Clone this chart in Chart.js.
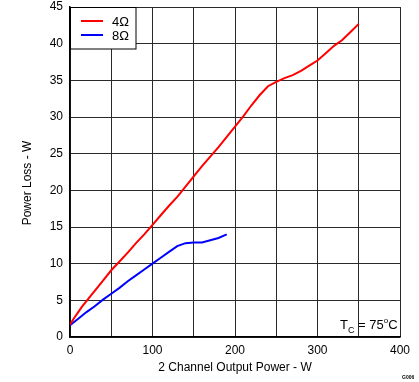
<!DOCTYPE html>
<html>
<head>
<meta charset="utf-8">
<script src="https://cdn.jsdelivr.net/npm/chart.js@4.4.0/dist/chart.umd.min.js"></script>
<style>
  html, body { margin: 0; padding: 0; background: #fff; }
  #wrap { width: 419px; height: 382px; }
</style>
</head>
<body>
<div id="wrap"><canvas id="lossChart" width="419" height="382"></canvas></div>
<script>
// --- Data ---
const labels4 = '4Ω';
const labels8 = '8Ω';
const power4 = [0, 5, 10, 15, 20, 25, 30, 40, 50, 60, 70, 80, 90, 100, 110, 120, 130, 140, 150, 160, 170, 180, 190, 200, 210, 220, 230, 240, 250, 260, 270, 280, 290, 300, 310, 320, 330, 340, 350];
const loss4 = [1.7, 2.6, 3.4, 4.2, 4.9, 5.6, 6.3, 7.7, 9.1, 10.3, 11.5, 12.8, 14.0, 15.3, 16.6, 17.9, 19.1, 20.5, 21.9, 23.3, 24.6, 25.9, 27.3, 28.7, 30.1, 31.6, 33.0, 34.2, 34.8, 35.3, 35.7, 36.3, 37.0, 37.7, 38.7, 39.7, 40.5, 41.6, 42.7];
const power8 = [0, 10, 20, 30, 40, 50, 60, 70, 80, 90, 100, 110, 120, 130, 140, 150, 160, 170, 180, 190];
const loss8 = [1.6, 2.5, 3.4, 4.2, 5.1, 5.9, 6.7, 7.6, 8.4, 9.2, 10.0, 10.8, 11.6, 12.4, 12.8, 12.9, 12.9, 13.2, 13.5, 14.0];
const xLabelTicks = [0, 100, 200, 300, 400];

const FONT = '"Liberation Sans", Arial, sans-serif';

function toPoints(xs, ys) {
    return xs.map((x, i) => ({ x: x, y: ys[i] }));
}

// --- Extra text: legend box, axis titles, notes ---
const overlayPlugin = {
    id: 'overlay',
    afterDraw(chart) {
        const ctx = chart.ctx;
        const area = chart.chartArea;
        ctx.save();

        // legend box in the top-left corner
        ctx.fillStyle = '#fff';
        ctx.fillRect(area.left, area.top, 66, 42);
        ctx.strokeStyle = '#000';
        ctx.lineWidth = 1;
        ctx.strokeRect(area.left + 0.5, area.top + 0.5, 65.5, 41.5);
        chart.data.datasets.forEach((ds, i) => {
            const y = area.top + 14 + i * 14;
            ctx.strokeStyle = ds.borderColor;
            ctx.lineWidth = 2;
            ctx.beginPath();
            ctx.moveTo(area.left + 11, y);
            ctx.lineTo(area.left + 33, y);
            ctx.stroke();
            ctx.fillStyle = '#000';
            ctx.font = '13px ' + FONT;
            ctx.textAlign = 'left';
            ctx.textBaseline = 'middle';
            ctx.fillText(ds.label, area.left + 42, y + 1);
        });

        // axis titles
        ctx.fillStyle = '#000';
        ctx.font = '12px ' + FONT;
        ctx.textAlign = 'center';
        ctx.textBaseline = 'middle';
        ctx.fillText('2 Channel Output Power - W', (area.left + area.right) / 2, 368);
        ctx.save();
        ctx.translate(28, 183);
        ctx.rotate(-Math.PI / 2);
        ctx.fillText('Power Loss - W', 0, 0);
        ctx.restore();

        // T_C = 75°C note
        ctx.textAlign = 'left';
        ctx.textBaseline = 'alphabetic';
        ctx.font = '13px ' + FONT;
        let x = 340;
        ctx.fillText('T', x, 329);
        x += ctx.measureText('T').width;
        ctx.font = '9px ' + FONT;
        ctx.fillText('C', x, 333);
        x += ctx.measureText('C').width;
        ctx.font = '13px ' + FONT;
        ctx.fillText(' = 75', x, 329);
        x += ctx.measureText(' = 75').width;
        ctx.font = '8px ' + FONT;
        ctx.fillText('o', x, 323);
        x += ctx.measureText('o').width;
        ctx.font = '13px ' + FONT;
        ctx.fillText('C', x, 329);

        // figure id
        ctx.font = 'bold 5px ' + FONT;
        ctx.fillText('G006', 402, 379);
        ctx.restore();
    }
};

// --- Chart ---
const ctx = document.getElementById('lossChart').getContext('2d');
const myChart = new Chart(ctx, {
    type: 'scatter',
    data: {
        datasets: [
            {
                label: labels4,
                data: toPoints(power4, loss4),
                showLine: true,
                borderColor: '#ff0000',
                borderWidth: 2,
                pointRadius: 0,
                tension: 0
            },
            {
                label: labels8,
                data: toPoints(power8, loss8),
                showLine: true,
                borderColor: '#0000ff',
                borderWidth: 2,
                pointRadius: 0,
                tension: 0
            }
        ]
    },
    options: {
        responsive: false,
        animation: false,
        layout: {
            padding: { left: 0, right: 19, top: 7, bottom: 0 }
        },
        scales: {
            x: {
                type: 'linear',
                min: 0,
                max: 400,
                afterFit: (scale) => {
                    scale.height = 45;
                    scale.paddingLeft = 0;
                    scale.paddingRight = 0;
                },
                ticks: {
                    stepSize: 50,
                    maxRotation: 0,
                    autoSkip: false,
                    padding: 6,
                    color: '#000',
                    font: { family: FONT, size: 12 },
                    callback: (v) => xLabelTicks.includes(v) ? v : ''
                },
                grid: { color: '#2a2a2a', lineWidth: 1, drawTicks: false },
                border: { color: '#000', width: 1.5 }
            },
            y: {
                min: 0,
                max: 45,
                afterFit: (scale) => {
                    scale.width = 70;
                    scale.paddingTop = 0;
                    scale.paddingBottom = 0;
                },
                ticks: {
                    stepSize: 5,
                    padding: 7,
                    color: '#000',
                    font: { family: FONT, size: 12 }
                },
                grid: { color: '#2a2a2a', lineWidth: 1, drawTicks: false },
                border: { color: '#000', width: 1.5 }
            }
        },
        plugins: {
            legend: { display: false },
            tooltip: { enabled: false }
        }
    },
    plugins: [overlayPlugin]
});
</script>
</body>
</html>
